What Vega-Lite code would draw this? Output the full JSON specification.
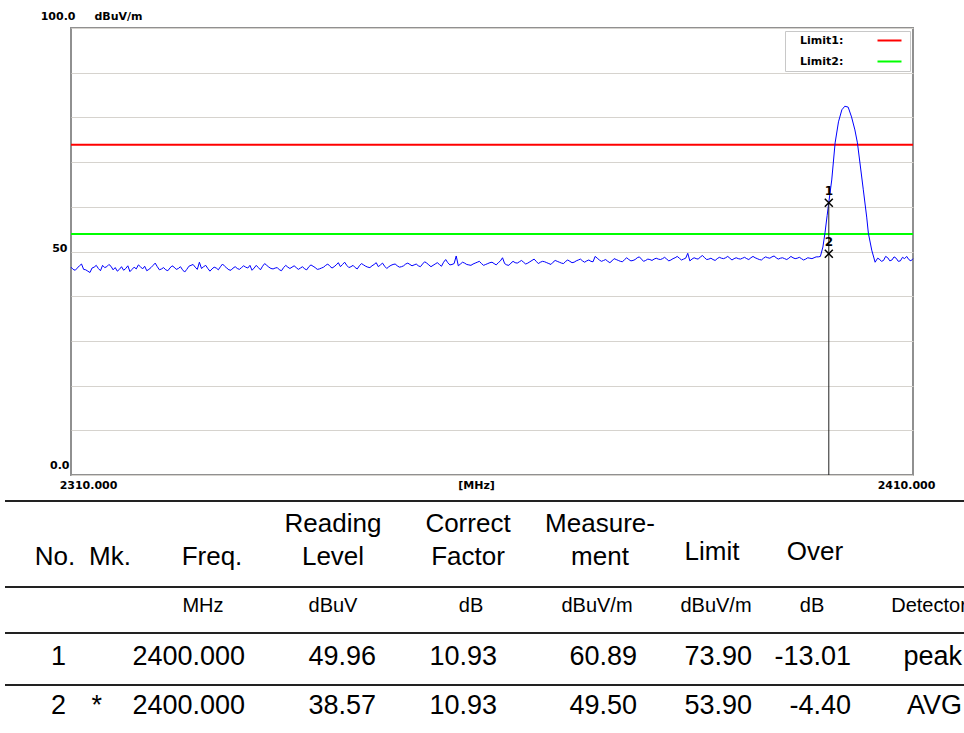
{
  "$schema": "https://vega.github.io/schema/vega-lite/v6.json",
  "width": 842,
  "height": 447,
  "autosize": {"type": "none"},
  "padding": {"left": 71, "top": 28, "right": 51, "bottom": 258},
  "background": "white",
  "config": {"view": {"stroke": "#909090", "strokeWidth": 2}, "font": "Liberation Sans"},
  "datasets": {
    "trace": [
      {"f":2310,"v":46.5},{"f":2310.5,"v":45.8},{"f":2311,"v":46.8},{"f":2311.5,"v":46.0},{"f":2312,"v":45.6},{"f":2312.5,"v":46.3},{"f":2313,"v":46.9},{"f":2313.5,"v":45.7},{"f":2314,"v":46.4},{"f":2314.5,"v":47.1},
      {"f":2315,"v":45.9},{"f":2315.5,"v":45.6},{"f":2316,"v":46.6},{"f":2316.5,"v":46.2},{"f":2317,"v":45.5},{"f":2317.5,"v":46.5},{"f":2318,"v":47.0},{"f":2318.5,"v":46.1},{"f":2319,"v":45.7},{"f":2319.5,"v":46.4},
      {"f":2320,"v":47.4},{"f":2320.5,"v":45.9},{"f":2321,"v":46.4},{"f":2321.5,"v":45.7},{"f":2322,"v":46.8},{"f":2322.5,"v":46.0},{"f":2323,"v":46.6},{"f":2323.5,"v":45.4},{"f":2324,"v":46.7},{"f":2324.5,"v":47.1},
      {"f":2325,"v":46.0},{"f":2325.5,"v":46.2},{"f":2326,"v":46.9},{"f":2326.5,"v":45.6},{"f":2327,"v":46.5},{"f":2327.5,"v":45.9},{"f":2328,"v":47.2},{"f":2328.5,"v":46.3},{"f":2329,"v":45.8},{"f":2329.5,"v":46.6},
      {"f":2330,"v":46.0},{"f":2330.5,"v":46.8},{"f":2331,"v":46.3},{"f":2331.5,"v":45.8},{"f":2332,"v":46.9},{"f":2332.5,"v":45.9},{"f":2333,"v":47.3},{"f":2333.5,"v":46.5},{"f":2334,"v":46.1},{"f":2334.5,"v":46.4},
      {"f":2335,"v":45.7},{"f":2335.5,"v":46.9},{"f":2336,"v":46.2},{"f":2336.5,"v":46.8},{"f":2337,"v":46.0},{"f":2337.5,"v":46.6},{"f":2338,"v":45.9},{"f":2338.5,"v":47.0},{"f":2339,"v":46.4},{"f":2339.5,"v":46.1},
      {"f":2340,"v":46.5},{"f":2340.5,"v":47.2},{"f":2341,"v":46.3},{"f":2341.5,"v":47.0},{"f":2342,"v":46.6},{"f":2342.5,"v":47.6},{"f":2343,"v":46.4},{"f":2343.5,"v":46.9},{"f":2344,"v":46.1},{"f":2344.5,"v":47.3},
      {"f":2345,"v":46.7},{"f":2345.5,"v":46.4},{"f":2346,"v":47.1},{"f":2346.5,"v":46.6},{"f":2347,"v":47.4},{"f":2347.5,"v":46.2},{"f":2348,"v":46.9},{"f":2348.5,"v":47.2},{"f":2349,"v":46.5},{"f":2349.5,"v":46.8},
      {"f":2350,"v":47.4},{"f":2350.5,"v":46.8},{"f":2351,"v":47.2},{"f":2351.5,"v":46.6},{"f":2352,"v":47.7},{"f":2352.5,"v":47.0},{"f":2353,"v":46.9},{"f":2353.5,"v":47.5},{"f":2354,"v":46.7},{"f":2354.5,"v":48.2},
      {"f":2355,"v":47.0},{"f":2355.5,"v":47.3},{"f":2356,"v":46.8},{"f":2356.5,"v":47.6},{"f":2357,"v":47.1},{"f":2357.5,"v":46.9},{"f":2358,"v":47.4},{"f":2358.5,"v":47.8},{"f":2359,"v":46.9},{"f":2359.5,"v":47.3},
      {"f":2360,"v":47.6},{"f":2360.5,"v":47.0},{"f":2361,"v":47.9},{"f":2361.5,"v":47.3},{"f":2362,"v":46.9},{"f":2362.5,"v":47.8},{"f":2363,"v":47.4},{"f":2363.5,"v":48.0},{"f":2364,"v":47.2},{"f":2364.5,"v":47.7},
      {"f":2365,"v":48.3},{"f":2365.5,"v":47.3},{"f":2366,"v":47.8},{"f":2366.5,"v":47.5},{"f":2367,"v":47.1},{"f":2367.5,"v":48.0},{"f":2368,"v":47.6},{"f":2368.5,"v":47.3},{"f":2369,"v":48.1},{"f":2369.5,"v":47.5},
      {"f":2370,"v":47.9},{"f":2370.5,"v":48.3},{"f":2371,"v":47.6},{"f":2371.5,"v":48.1},{"f":2372,"v":47.7},{"f":2372.5,"v":48.5},{"f":2373,"v":47.8},{"f":2373.5,"v":48.2},{"f":2374,"v":47.5},{"f":2374.5,"v":48.4},
      {"f":2375,"v":48.0},{"f":2375.5,"v":47.7},{"f":2376,"v":48.6},{"f":2376.5,"v":47.9},{"f":2377,"v":48.2},{"f":2377.5,"v":48.8},{"f":2378,"v":47.8},{"f":2378.5,"v":48.3},{"f":2379,"v":48.0},{"f":2379.5,"v":48.5},
      {"f":2380,"v":48.2},{"f":2380.5,"v":48.7},{"f":2381,"v":47.9},{"f":2381.5,"v":48.4},{"f":2382,"v":48.9},{"f":2382.5,"v":48.1},{"f":2383,"v":48.5},{"f":2383.5,"v":47.9},{"f":2384,"v":48.6},{"f":2384.5,"v":48.3},
      {"f":2385,"v":49.1},{"f":2385.5,"v":48.2},{"f":2386,"v":48.5},{"f":2386.5,"v":48.0},{"f":2387,"v":48.7},{"f":2387.5,"v":48.4},{"f":2388,"v":48.9},{"f":2388.5,"v":48.1},{"f":2389,"v":48.6},{"f":2389.5,"v":48.3},
      {"f":2390,"v":48.7},{"f":2390.5,"v":48.2},{"f":2391,"v":48.9},{"f":2391.5,"v":48.4},{"f":2392,"v":48.1},{"f":2392.5,"v":48.8},{"f":2393,"v":48.5},{"f":2393.5,"v":49.0},{"f":2394,"v":48.3},{"f":2394.5,"v":48.6},
      {"f":2395,"v":48.2},{"f":2395.5,"v":48.9},{"f":2396,"v":48.4},{"f":2396.5,"v":48.7},{"f":2397,"v":48.1},{"f":2397.5,"v":48.6},{"f":2398,"v":48.4},{"f":2398.5,"v":48.8},
      {"f":2399.0,"v":48.9},{"f":2399.3,"v":51.0},{"f":2399.55,"v":54.2},{"f":2399.8,"v":58.0},{"f":2400.0,"v":61.0},{"f":2400.35,"v":66.0},{"f":2400.75,"v":74.3},{"f":2401.15,"v":79.0},{"f":2401.55,"v":81.7},{"f":2401.9,"v":82.5},
      {"f":2402.3,"v":82.3},{"f":2402.7,"v":80.1},{"f":2403.1,"v":77.2},{"f":2403.4,"v":74.3},{"f":2403.7,"v":69.8},{"f":2404.1,"v":63.8},{"f":2404.5,"v":57.7},{"f":2404.7,"v":54.1},{"f":2405.1,"v":50.3},{"f":2405.5,"v":47.6},
      {"f":2405.8,"v":48.5},{"f":2406,"v":48.3},{"f":2406.5,"v":48.0},{"f":2407,"v":48.6},{"f":2407.5,"v":48.1},{"f":2408,"v":48.5},{"f":2408.5,"v":47.9},{"f":2409,"v":48.4},{"f":2409.5,"v":48.2},{"f":2410,"v":48.4},
      {"f":2310.25,"v":46.0},{"f":2310.75,"v":46.3},{"f":2311.25,"v":47.2},{"f":2311.75,"v":45.9},{"f":2312.25,"v":45.3},{"f":2312.75,"v":46.5},{"f":2313.25,"v":46.2},{"f":2313.75,"v":46.9},{"f":2314.25,"v":46.6},{"f":2314.75,"v":46.7},
      {"f":2315.25,"v":46.4},{"f":2315.75,"v":46.0},{"f":2316.25,"v":45.8},{"f":2316.75,"v":46.8},{"f":2317.25,"v":46.0},{"f":2317.75,"v":46.1},{"f":2318.25,"v":46.6},{"f":2318.75,"v":46.7},{"f":2319.25,"v":46.0},{"f":2319.75,"v":46.9},
      {"f":2320.25,"v":46.6},{"f":2320.75,"v":46.1},{"f":2321.25,"v":45.9},{"f":2321.75,"v":46.3},{"f":2322.25,"v":46.5},{"f":2322.75,"v":46.2},{"f":2323.25,"v":45.9},{"f":2323.75,"v":46.0},{"f":2324.25,"v":46.9},{"f":2324.75,"v":46.5},
      {"f":2325.25,"v":47.6},{"f":2325.75,"v":46.6},{"f":2326.25,"v":46.2},{"f":2326.75,"v":46.1},{"f":2327.25,"v":46.3},{"f":2327.75,"v":46.6},{"f":2328.25,"v":46.7},{"f":2328.75,"v":45.9},{"f":2329.25,"v":46.3},{"f":2329.75,"v":46.2},
      {"f":2330.25,"v":46.4},{"f":2330.75,"v":46.5},{"f":2331.25,"v":46.9},{"f":2331.75,"v":46.3},{"f":2332.25,"v":46.4},{"f":2332.75,"v":46.7},{"f":2333.25,"v":46.9},{"f":2333.75,"v":46.2},{"f":2334.25,"v":46.3},{"f":2334.75,"v":45.9},
      {"f":2335.25,"v":46.4},{"f":2335.75,"v":46.5},{"f":2336.25,"v":46.5},{"f":2336.75,"v":46.4},{"f":2337.25,"v":46.3},{"f":2337.75,"v":46.1},{"f":2338.25,"v":46.6},{"f":2338.75,"v":46.7},{"f":2339.25,"v":46.0},{"f":2339.75,"v":46.3},
      {"f":2340.25,"v":46.9},{"f":2340.75,"v":46.7},{"f":2341.25,"v":46.6},{"f":2341.75,"v":47.5},{"f":2342.25,"v":47.1},{"f":2342.75,"v":46.9},{"f":2343.25,"v":46.6},{"f":2343.75,"v":46.4},{"f":2344.25,"v":46.8},{"f":2344.75,"v":47.0},
      {"f":2345.25,"v":46.5},{"f":2345.75,"v":46.8},{"f":2346.25,"v":47.5},{"f":2346.75,"v":47.0},{"f":2347.25,"v":46.7},{"f":2347.75,"v":46.6},{"f":2348.25,"v":47.1},{"f":2348.75,"v":46.8},{"f":2349.25,"v":46.6},{"f":2349.75,"v":47.2},
      {"f":2350.25,"v":47.1},{"f":2350.75,"v":47.0},{"f":2351.25,"v":46.8},{"f":2351.75,"v":47.2},{"f":2352.25,"v":47.4},{"f":2352.75,"v":46.6},{"f":2353.25,"v":47.2},{"f":2353.75,"v":47.1},{"f":2354.25,"v":47.6},{"f":2354.75,"v":47.5},
      {"f":2355.25,"v":47.1},{"f":2355.75,"v":49.0},{"f":2356.25,"v":47.2},{"f":2356.75,"v":47.4},{"f":2357.25,"v":47.0},{"f":2357.75,"v":47.2},{"f":2358.25,"v":47.6},{"f":2358.75,"v":47.3},{"f":2359.25,"v":47.1},{"f":2359.75,"v":47.5},
      {"f":2360.25,"v":47.3},{"f":2360.75,"v":47.5},{"f":2361.25,"v":48.6},{"f":2361.75,"v":47.0},{"f":2362.25,"v":47.4},{"f":2362.75,"v":47.5},{"f":2363.25,"v":47.7},{"f":2363.75,"v":47.6},{"f":2364.25,"v":47.4},{"f":2364.75,"v":48.0},
      {"f":2365.25,"v":47.8},{"f":2365.75,"v":47.6},{"f":2366.25,"v":47.7},{"f":2366.75,"v":47.3},{"f":2367.25,"v":47.6},{"f":2367.75,"v":47.8},{"f":2368.25,"v":47.4},{"f":2368.75,"v":47.8},{"f":2369.25,"v":47.8},{"f":2369.75,"v":47.6},
      {"f":2370.25,"v":48.1},{"f":2370.75,"v":47.9},{"f":2371.25,"v":47.9},{"f":2371.75,"v":47.8},{"f":2372.25,"v":48.9},{"f":2372.75,"v":48.1},{"f":2373.25,"v":48.0},{"f":2373.75,"v":47.8},{"f":2374.25,"v":47.9},{"f":2374.75,"v":48.2},
      {"f":2375.25,"v":47.8},{"f":2375.75,"v":48.2},{"f":2376.25,"v":48.2},{"f":2376.75,"v":48.0},{"f":2377.25,"v":48.6},{"f":2377.75,"v":48.3},{"f":2378.25,"v":48.0},{"f":2378.75,"v":48.2},{"f":2379.25,"v":48.3},{"f":2379.75,"v":48.3},
      {"f":2380.25,"v":48.4},{"f":2380.75,"v":48.3},{"f":2381.25,"v":48.1},{"f":2381.75,"v":48.6},{"f":2382.25,"v":48.5},{"f":2382.75,"v":48.3},{"f":2383.25,"v":49.6},{"f":2383.75,"v":48.3},{"f":2384.25,"v":48.4},{"f":2384.75,"v":48.8},
      {"f":2385.25,"v":48.6},{"f":2385.75,"v":48.3},{"f":2386.25,"v":48.2},{"f":2386.75,"v":48.4},{"f":2387.25,"v":48.5},{"f":2387.75,"v":48.6},{"f":2388.25,"v":48.5},{"f":2388.75,"v":48.4},{"f":2389.25,"v":48.4},{"f":2389.75,"v":48.5},
      {"f":2390.25,"v":48.4},{"f":2390.75,"v":48.6},{"f":2391.25,"v":48.6},{"f":2391.75,"v":48.2},{"f":2392.25,"v":48.5},{"f":2392.75,"v":48.6},{"f":2393.25,"v":48.8},{"f":2393.75,"v":48.6},{"f":2394.25,"v":48.5},{"f":2394.75,"v":48.4},
      {"f":2395.25,"v":48.5},{"f":2395.75,"v":48.6},{"f":2396.25,"v":48.5},{"f":2396.75,"v":48.4},{"f":2397.25,"v":48.3},{"f":2397.75,"v":48.5},{"f":2398.25,"v":48.6},{"f":2398.75,"v":48.8},
      {"f":2406.25,"v":47.8},{"f":2406.75,"v":48.9},{"f":2407.25,"v":47.9},{"f":2407.75,"v":48.8},{"f":2408.25,"v":47.8},{"f":2408.75,"v":48.7},{"f":2409.25,"v":48.9},{"f":2409.75,"v":47.9}
    ],
    "limits": [{"name":"Limit1","v":73.9},{"name":"Limit2","v":53.9}],
    "markers": [{"mk":"1","f":2400,"v":60.89},{"mk":"2","f":2400,"v":49.5}],
    "table": [
      {"part":"head","row":2,"col":1,"text":"No."},
      {"part":"head","row":2,"col":2,"text":"Mk."},
      {"part":"head","row":2,"col":3,"text":"Freq."},
      {"part":"head","row":1,"col":4,"text":"Reading"},
      {"part":"head","row":2,"col":4,"text":"Level"},
      {"part":"head","row":1,"col":5,"text":"Correct"},
      {"part":"head","row":2,"col":5,"text":"Factor"},
      {"part":"head","row":1,"col":6,"text":"Measure-"},
      {"part":"head","row":2,"col":6,"text":"ment"},
      {"part":"head","row":2,"col":7,"text":"Limit"},
      {"part":"head","row":2,"col":8,"text":"Over"},
      {"part":"unit","row":2,"col":3,"text":"MHz"},
      {"part":"unit","row":2,"col":4,"text":"dBuV"},
      {"part":"unit","row":2,"col":5,"text":"dB"},
      {"part":"unit","row":2,"col":6,"text":"dBuV/m"},
      {"part":"unit","row":2,"col":7,"text":"dBuV/m"},
      {"part":"unit","row":2,"col":8,"text":"dB"},
      {"part":"unit","row":2,"col":9,"text":"Detector"},
      {"part":"data","row":3,"col":1,"text":"1"},
      {"part":"data","row":3,"col":3,"text":"2400.000"},
      {"part":"data","row":3,"col":4,"text":"49.96"},
      {"part":"data","row":3,"col":5,"text":"10.93"},
      {"part":"data","row":3,"col":6,"text":"60.89"},
      {"part":"data","row":3,"col":7,"text":"73.90"},
      {"part":"data","row":3,"col":8,"text":"-13.01"},
      {"part":"data","row":3,"col":9,"text":"peak"},
      {"part":"data","row":4,"col":1,"text":"2"},
      {"part":"data","row":4,"col":2,"text":"*"},
      {"part":"data","row":4,"col":3,"text":"2400.000"},
      {"part":"data","row":4,"col":4,"text":"38.57"},
      {"part":"data","row":4,"col":5,"text":"10.93"},
      {"part":"data","row":4,"col":6,"text":"49.50"},
      {"part":"data","row":4,"col":7,"text":"53.90"},
      {"part":"data","row":4,"col":8,"text":"-4.40"},
      {"part":"data","row":4,"col":9,"text":"AVG"},
      {"part":"line","row":1,"col":0,"text":""},
      {"part":"line","row":2,"col":0,"text":""},
      {"part":"line","row":3,"col":0,"text":""},
      {"part":"line","row":4,"col":0,"text":""}
    ]
  },
  "resolve": {"scale": {"x": "independent", "y": "independent"}},
  "layer": [
    {
      "layer": [
        {
          "data": {"name": "limits"},
          "mark": {"type": "rule", "strokeWidth": 2},
          "encoding": {
            "y": {"field": "v", "type": "quantitative", "title": "dBuV/m"},
            "color": {
              "field": "name", "type": "nominal",
              "scale": {"domain": ["Limit1", "Limit2"], "range": ["#ff0000", "#00ff00"]},
              "legend": {
                "title": null, "orient": "top-right", "offset": 3, "padding": 4,
                "strokeColor": "#c8c8c8", "fillColor": "white",
                "symbolType": "M-4,0L4,0", "symbolStrokeWidth": 2, "symbolSize": 36,
                "symbolOffset": 95, "labelOffset": -95,
                "labelFont": "DejaVu Sans", "labelFontWeight": "bold", "labelFontSize": 11, "labelColor": "black",
                "rowPadding": 9, "labelExpr": "datum.label + ':'"
              }
            }
          }
        },
        {
          "data": {"name": "trace"},
          "mark": {"type": "line", "color": "#0000ff", "strokeWidth": 1},
          "encoding": {
            "x": {
              "field": "f", "type": "quantitative",
              "scale": {"domain": [2310, 2410], "nice": false, "zero": false},
              "axis": {
                "values": [2310, 2410], "format": ".3f", "grid": false, "ticks": false, "domain": false,
                "labelFont": "DejaVu Sans", "labelFontWeight": "bold", "labelFontSize": 11, "labelColor": "black",
                "labelPadding": 4, "labelFlush": false, "labelOverlap": false,
                "labelOffset": {"condition": {"test": "datum.value == 2310", "value": 17}, "value": -7},
                "title": "[MHz]", "titleFont": "DejaVu Sans", "titleFontWeight": "bold", "titleFontSize": 11,
                "titleColor": "black", "titleX": 405, "titleY": 10, "titleBaseline": "middle", "titleAlign": "center"
              }
            },
            "y": {
              "field": "v", "type": "quantitative",
              "scale": {"domain": [0, 100], "nice": false, "zero": false},
              "axis": {
                "values": [0, 10, 20, 30, 40, 50, 60, 70, 80, 90, 100],
                "labelExpr": "datum.value == 100 ? '100.0' : datum.value == 50 ? '50' : datum.value == 0 ? '0.0' : ''",
                "grid": true, "gridColor": "#d6d3ce", "gridWidth": 1, "ticks": false, "domain": false,
                "labelFont": "DejaVu Sans", "labelFontWeight": "bold", "labelFontSize": 11, "labelColor": "black",
                "labelBaseline": "middle", "labelOverlap": false, "labelFlush": false,
                "labelOffset": {"condition": [{"test": "datum.value == 100", "value": -12}, {"test": "datum.value == 50", "value": -3}], "value": -10},
                "labelPadding": {"condition": [{"test": "datum.value == 100", "value": -4}, {"test": "datum.value == 50", "value": 4}], "value": 2},
                "title": "dBuV/m", "titleAngle": 0, "titleX": 23, "titleY": -12, "titleAlign": "left", "titleBaseline": "middle",
                "titleFont": "DejaVu Sans", "titleFontWeight": "bold", "titleFontSize": 11, "titleColor": "black"
              }
            }
          }
        },
        {
          "data": {"name": "markers"},
          "transform": [{"filter": "datum.mk == '1'"}],
          "mark": {"type": "rule", "color": "#222222", "strokeWidth": 1},
          "encoding": {
            "x": {"field": "f", "type": "quantitative"},
            "y": {"field": "v", "type": "quantitative"},
            "y2": {"datum": 0}
          }
        },
        {
          "data": {"name": "markers"},
          "mark": {"type": "point", "shape": "M-1,-1L1,1M-1,1L1,-1", "size": 64, "filled": false, "color": "black", "strokeWidth": 1.5, "opacity": 1},
          "encoding": {
            "x": {"field": "f", "type": "quantitative"},
            "y": {"field": "v", "type": "quantitative"}
          }
        },
        {
          "data": {"name": "markers"},
          "mark": {"type": "text", "dy": -12, "font": "DejaVu Sans", "fontWeight": "bold", "fontSize": 12, "color": "black"},
          "encoding": {
            "x": {"field": "f", "type": "quantitative"},
            "y": {"field": "v", "type": "quantitative"},
            "text": {"field": "mk"}
          }
        }
      ]
    },
    {
      "data": {"name": "table"},
      "transform": [{"filter": "datum.part == 'head'"}],
      "encoding": {
        "x": {"field": "col", "type": "quantitative", "axis": null,
              "scale": {"domain": [1, 2, 3, 4, 5, 6, 7, 8], "range": [-16, 39, 141, 262, 397, 529, 641, 744], "nice": false, "zero": false}},
        "y": {"field": "row", "type": "quantitative", "axis": null,
              "scale": {"domain": [1, 2], "range": [504, 537], "nice": false, "zero": false}},
        "text": {"field": "text"}
      },
      "layer": [
        {
          "transform": [{"filter": "datum.col != 7 && datum.col != 8"}],
          "mark": {"type": "text", "font": "Liberation Sans", "fontSize": 26, "baseline": "alphabetic", "align": "center", "color": "black"}
        },
        {
          "transform": [{"filter": "datum.col == 7 || datum.col == 8"}],
          "mark": {"type": "text", "font": "Liberation Sans", "fontSize": 26, "baseline": "alphabetic", "align": "center", "color": "black", "dy": -5}
        }
      ]
    },
    {
      "data": {"name": "table"},
      "transform": [{"filter": "datum.part == 'unit'"}],
      "mark": {"type": "text", "font": "Liberation Sans", "fontSize": 20, "baseline": "alphabetic", "align": "center", "color": "black"},
      "encoding": {
        "x": {"field": "col", "type": "quantitative", "axis": null,
              "scale": {"domain": [3, 4, 5, 6, 7, 8, 9], "range": [132, 262, 400, 526, 645, 741, 858], "nice": false, "zero": false}},
        "y": {"field": "row", "type": "quantitative", "axis": null,
              "scale": {"domain": [0, 2], "range": [0, 584], "nice": false, "zero": false}},
        "text": {"field": "text"}
      }
    },
    {
      "data": {"name": "table"},
      "transform": [{"filter": "datum.part == 'data'"}],
      "mark": {"type": "text", "font": "Liberation Sans", "fontSize": 27, "baseline": "alphabetic", "align": "right", "color": "black"},
      "encoding": {
        "x": {"field": "col", "type": "quantitative", "axis": null,
              "scale": {"domain": [1, 2, 3, 4, 5, 6, 7, 8, 9], "range": [-5, 31, 174, 305, 426, 566, 681, 780, 891], "nice": false, "zero": false}},
        "y": {"field": "row", "type": "quantitative", "axis": null,
              "scale": {"domain": [3, 4], "range": [637, 686], "nice": false, "zero": false}},
        "text": {"field": "text"}
      }
    },
    {
      "data": {"name": "table"},
      "transform": [{"filter": "datum.part == 'line'"}],
      "mark": {"type": "rule", "color": "#222222", "strokeWidth": 2},
      "encoding": {
        "x": {"datum": 0, "type": "quantitative", "axis": null,
              "scale": {"domain": [0, 1], "range": [-66, 893], "nice": false, "zero": false}},
        "x2": {"datum": 1},
        "y": {"field": "row", "type": "quantitative", "axis": null,
              "scale": {"domain": [1, 2, 3, 4], "range": [473, 559, 605, 657], "nice": false, "zero": false}}
      }
    }
  ]
}
